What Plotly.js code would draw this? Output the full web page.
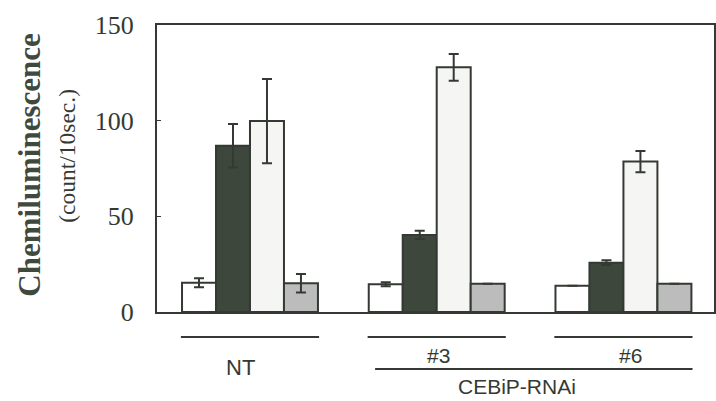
<!DOCTYPE html>
<html>
<head>
<meta charset="utf-8">
<script src="https://cdn.plot.ly/plotly-3.0.1.min.js"></script>
<style>html,body{margin:0;padding:0;background:#fff;}#chart{width:716px;height:401px;}</style>
</head>
<body>
<div id="chart"></div>
<script>
// ---- data ----
const groups = ["NT", "#3", "#6"];
const groupLabel = "CEBiP-RNAi";
const yTicks = [0, 50, 100, 150];

const whiteVals = [15.3, 14.5, 13.7];
const whiteErr  = [2.3, 1.0, 0];
const darkVals  = [86.9, 40.3, 25.8];
const darkErr   = [11.4, 2.2, 1.2];
const lightVals = [99.8, 127.9, 78.6];
const lightErr  = [22, 7, 5.5];
const greyVals  = [15.0, 14.8, 14.8];
const greyErr   = [4.8, 0, 0];

const yTitle = "Chemiluminescence";
const ySub = "(count/10sec.)";

// ---- styling ----
const ink = "#343a33";
const idx = groups.map((g, i) => i);

function barTrace(vals, errs, fill) {
  return {
    type: "bar",
    x: idx,
    y: vals,
    marker: { color: fill, line: { color: ink, width: 2 } },
    error_y: { type: "data", array: errs, visible: true, color: ink, thickness: 2, width: 5 },
    hoverinfo: "skip",
    showlegend: false
  };
}

const data = [
  barTrace(whiteVals, whiteErr, "#ffffff"),
  barTrace(darkVals, darkErr, "#3d473c"),
  barTrace(lightVals, lightErr, "#f5f5f3"),
  barTrace(greyVals, greyErr, "#bcbcbc")
];

const shapes = [];
const annotations = [];
const lineY1 = -0.087, lineY2 = -0.199;
groups.forEach((g, i) => {
  shapes.push({ type: "line", xref: "x", yref: "paper", x0: i - 0.37, x1: i + 0.37, y0: lineY1, y1: lineY1,
    line: { color: ink, width: 2 } });
});
shapes.push({ type: "line", xref: "x", yref: "paper", x0: 1 - 0.33, x1: 2 + 0.37, y0: lineY2, y1: lineY2,
  line: { color: ink, width: 2 } });

const labelFont = { family: "Liberation Sans, Arial, sans-serif", size: 21, color: ink };
annotations.push({ xref: "x", yref: "paper", x: -0.05, y: -0.195, text: groups[0], showarrow: false,
  xanchor: "center", yanchor: "middle", font: { ...labelFont, size: 22 } });
annotations.push({ xref: "x", yref: "paper", x: 1.01, y: -0.15, text: groups[1], showarrow: false,
  xanchor: "center", yanchor: "middle", font: labelFont });
annotations.push({ xref: "x", yref: "paper", x: 2.04, y: -0.15, text: groups[2], showarrow: false,
  xanchor: "center", yanchor: "middle", font: labelFont });
annotations.push({ xref: "x", yref: "paper", x: 1.43, y: -0.258, text: groupLabel, showarrow: false,
  xanchor: "center", yanchor: "middle", font: labelFont });

annotations.push({ xref: "paper", yref: "paper", x: -0.228, y: 0.51, text: "<b>" + yTitle + "</b>",
  showarrow: false, textangle: -90, xanchor: "center", yanchor: "middle",
  font: { family: "Liberation Serif, Times New Roman, serif", size: 31, color: "#3f4a3e" } });
annotations.push({ xref: "paper", yref: "paper", x: -0.163, y: 0.545, text: ySub,
  showarrow: false, textangle: -90, xanchor: "center", yanchor: "middle",
  font: { family: "Liberation Serif, Times New Roman, serif", size: 23.5, color: ink } });

const layout = {
  width: 716, height: 401,
  margin: { l: 157, r: 2, t: 25, b: 89, pad: 0 },
  paper_bgcolor: "#ffffff", plot_bgcolor: "#ffffff",
  barmode: "group", bargap: 0.272, bargroupgap: 0,
  xaxis: {
    range: [-0.498, 2.485], showticklabels: false, ticks: "", showgrid: false, zeroline: false,
    showline: true, mirror: true, linecolor: ink, linewidth: 2, fixedrange: true
  },
  yaxis: {
    range: [0, 150], tickvals: yTicks, ticktext: yTicks.map(String),
    ticks: "inside", ticklen: 4, tickcolor: ink, tickwidth: 1,
    showgrid: false, zeroline: false, showline: true, mirror: true, linecolor: ink, linewidth: 2,
    ticklabelstandoff: 16,
    tickfont: { family: "Liberation Serif, Times New Roman, serif", size: 26, color: ink }
  },
  shapes: shapes,
  annotations: annotations
};

Plotly.newPlot("chart", data, layout, { staticPlot: true, displayModeBar: false });
</script>
</body>
</html>
